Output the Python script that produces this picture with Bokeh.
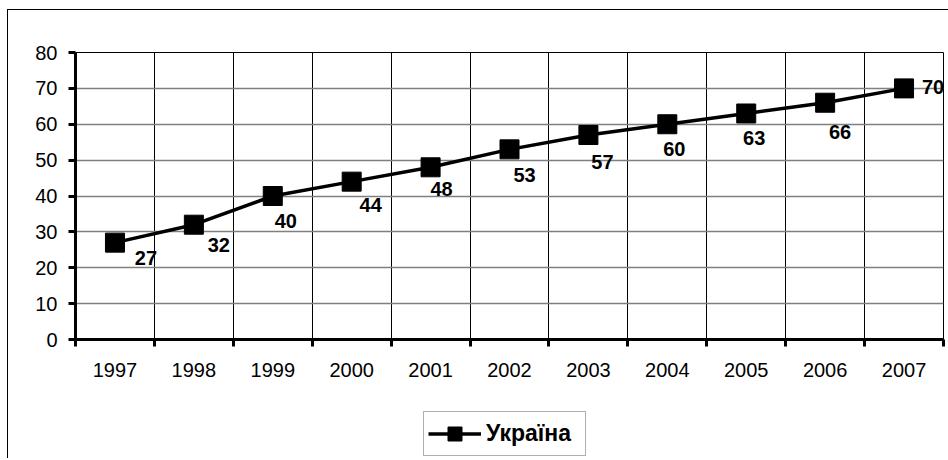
from bokeh.plotting import figure
from bokeh.layouts import column
from bokeh.models import (ColumnDataSource, FixedTicker, LabelSet, Legend, LegendItem,
                          Range1d)
from bokeh.core.properties import value
from bokeh.embed import file_html
from bokeh.resources import INLINE

# ---- data ----
years = ["1997", "1998", "1999", "2000", "2001", "2002", "2003", "2004", "2005", "2006", "2007"]
values = [27, 32, 40, 44, 48, 53, 57, 60, 63, 66, 70]
y_ticks = [0, 10, 20, 30, 40, 50, 60, 70, 80]
series_name = "Україна"

# label pixel offsets (style only)
label_dx = [31, 25, 13, 19, 11, 15, 14, 7, 8, 15, 29]
label_dy = [-15, -20, -25, -23, -22, -26, -27, -25, -25, -29, 1]

FONT = "Liberation Sans"
FS = "20px"

n = len(years)
centers = [i + 0.5 for i in range(n)]
bounds = list(range(n + 1))

src = ColumnDataSource(dict(x=centers, y=values, lab=[str(v) for v in values],
                            dx=label_dx, dy=label_dy))

p = figure(width=940, height=390, output_backend="svg", toolbar_location=None,
           x_range=Range1d(0, n), y_range=Range1d(0, 80),
           min_border_left=67, min_border_right=5, min_border_top=42, min_border_bottom=61)
p.background_fill_color = "white"
p.border_fill_color = "white"
p.outline_line_color = "black"
p.outline_line_width = 1

# y axis
p.yaxis.ticker = FixedTicker(ticks=y_ticks)
p.yaxis.axis_line_width = 3
p.yaxis.axis_line_color = "black"
p.yaxis.major_tick_line_width = 3
p.yaxis.major_tick_line_color = "black"
p.yaxis.major_tick_out = 7
p.yaxis.major_tick_in = 0
p.yaxis.minor_tick_line_color = None
p.yaxis.major_label_standoff = 11
p.yaxis.major_label_text_font = FONT
p.yaxis.major_label_text_font_size = FS
p.yaxis.major_label_text_color = "black"

# x axis: labels at centers, ticks at boundaries
p.xaxis.ticker = FixedTicker(ticks=centers, minor_ticks=bounds)
p.xaxis.major_label_overrides = {c: y for c, y in zip(centers, years)}
p.xaxis.axis_line_width = 3
p.xaxis.axis_line_color = "black"
p.xaxis.major_tick_line_color = None
p.xaxis.major_tick_out = 0
p.xaxis.major_tick_in = 0
p.xaxis.minor_tick_line_color = "black"
p.xaxis.minor_tick_line_width = 3
p.xaxis.minor_tick_out = 7
p.xaxis.minor_tick_in = 0
p.xaxis.major_label_standoff = 16
p.xaxis.major_label_text_font = FONT
p.xaxis.major_label_text_font_size = FS
p.xaxis.major_label_text_color = "black"

# grids
p.xgrid.ticker = FixedTicker(ticks=bounds)
p.xgrid.grid_line_color = "black"
p.xgrid.grid_line_width = 1
p.ygrid.ticker = FixedTicker(ticks=y_ticks)
p.ygrid.grid_line_color = "#808080"
p.ygrid.grid_line_width = 1.5

p.line("x", "y", source=src, line_color="black", line_width=3.5)
p.scatter("x", "y", source=src, marker="square", size=19,
          fill_color="black", line_color="black")

labels = LabelSet(x="x", y="y", text="lab", source=src, x_offset="dx", y_offset="dy",
                  text_align="center", text_baseline="middle",
                  text_font=value(FONT), text_font_size=FS, text_font_style="bold",
                  text_color="black")
p.add_layout(labels)

# legend strip (its own small figure below the chart)
p2 = figure(width=940, height=58, output_backend="svg", toolbar_location=None,
            x_range=Range1d(0, 1), y_range=Range1d(0, 1),
            min_border_left=67, min_border_right=5, min_border_top=0, min_border_bottom=0)
p2.axis.visible = False
p2.grid.visible = False
p2.outline_line_color = None
p2.background_fill_color = "white"
p2.border_fill_color = "white"
# legend-only renderers: the first data point lies outside this strip's ranges
lg_src = ColumnDataSource(dict(x=centers[:1], y=values[:1]))
lg_line = p2.line("x", "y", source=lg_src, line_color="black", line_width=3.5)
lg_pts = p2.scatter("x", "y", source=lg_src, marker="square", size=19,
                    fill_color="black", line_color="black")

legend = Legend(items=[LegendItem(label=series_name, renderers=[lg_line, lg_pts])],
                location=(348, 2), orientation="horizontal",
                glyph_width=53, glyph_height=35, label_height=35, label_width=95,
                label_standoff=5, padding=4, spacing=0, margin=0,
                border_line_color="#606060", border_line_width=1.5,
                label_text_font=FONT, label_text_font_size="23px",
                label_text_font_style="bold", label_text_color="black",
                background_fill_color="white")
p2.add_layout(legend, "center")

layout = column(p, p2, spacing=0,
                styles={"margin-left": "7px", "margin-top": "9px",
                        "border-left": "1.5px solid #000", "border-top": "1.5px solid #000"})

open("out.html", "w").write(file_html(layout, INLINE))
